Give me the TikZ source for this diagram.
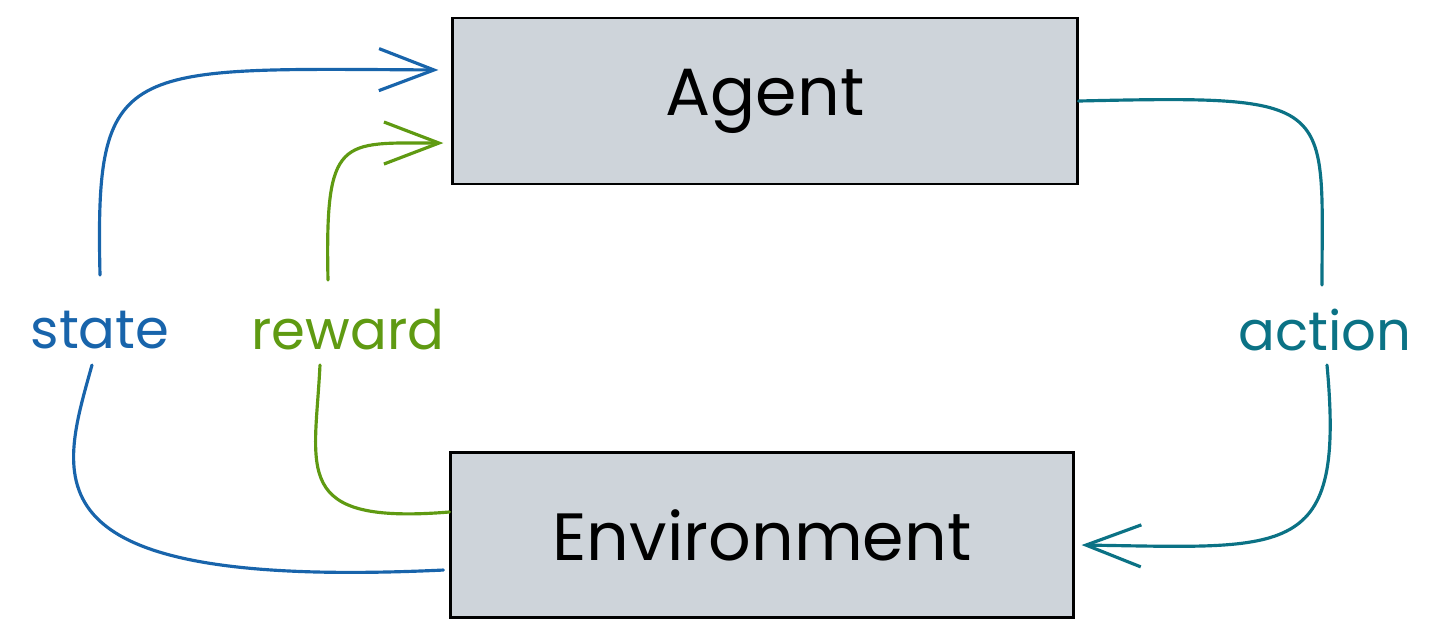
\documentclass[tikz,border=0pt]{standalone}
\usepackage{fontspec}
\setmainfont{Poppins}
\usetikzlibrary{arrows.meta}
\definecolor{boxgray}{HTML}{CED4DA}
\definecolor{stateblue}{HTML}{1864AB}
\definecolor{rewardgreen}{HTML}{5F9A12}
\definecolor{actionteal}{HTML}{0B7285}
\tikzset{
  box/.style={draw=black, line width=0.8pt, fill=boxgray, inner sep=0pt},
  boxtxt/.style={font=\fontsize{19}{23}\selectfont},
  lbl/.style={font=\fontsize{15.5}{19}\selectfont, inner sep=0pt},
  flow/.style={line width=0.9pt, line cap=round},
  tip/.style={-{Straight Barb[length=5.5mm, width=4.2mm]}}
}

\begin{document}
\begin{tikzpicture}[x=0.01cm, y=-0.01cm]
			%%%%% START %%%%%
			\useasboundingbox (0, 0) rectangle (1430, 638);
			
			\node[box, minimum width=6.24cm, minimum height=1.66cm] (agent) at (765, 101) {};
			\node[boxtxt] (agenttxt) at (agent.center) {Agent};
			
			\node[box, minimum width=6.22cm, minimum height=1.65cm] (env) at (762, 535) {};
			\node[boxtxt] (envtxt) at (env.center) {Environment};
			
			\node[lbl, text=stateblue] (state) at (100, 330) {state};
			\node[lbl, text=rewardgreen] (reward) at (348, 330) {reward};
			\node[lbl, text=actionteal] (action) at (1325, 330) {action};
			
			\coordinate (stateout) at ([yshift=-0.35cm, xshift=-0.06cm]env.west);
			\coordinate (rewardout) at ([yshift=0.23cm]env.west);
			\coordinate (statein) at ([yshift=0.31cm, xshift=-0.13cm]agent.west);
			\coordinate (rewardin) at ([yshift=-0.42cm, xshift=-0.08cm]agent.west);
			\coordinate (actionin) at ([yshift=-0.1cm, xshift=0.07cm]env.east);
			
			% state
			\draw[flow, stateblue] (stateout) .. controls (20, 590) and (60, 480) .. ([yshift=-0.35cm, xshift=-0.08cm]state.center);
			\draw[flow, stateblue, tip] ([yshift=0.55cm]state.center) .. controls (95, 60) and (120, 68) .. (statein);
			
			% reward
			\draw[flow, rewardgreen] (rewardout) .. controls (290, 525) and (315, 470) .. ([yshift=-0.35cm, xshift=-0.28cm]reward.center);
			\draw[flow, rewardgreen, tip] ([yshift=0.5cm, xshift=-0.2cm]reward.center) .. controls (325, 135) and (340, 143) .. (rewardin);
			
			% action
			\draw[flow, actionteal] (agent.east) .. controls (1340, 95) and (1322, 100) .. ([yshift=0.45cm, xshift=-0.03cm]action.center);
			\draw[flow, actionteal, tip] ([yshift=-0.35cm, xshift=0.02cm]action.center) .. controls (1345, 560) and (1290, 548) .. (actionin);
			%%%%% END %%%%%
\end{tikzpicture}
\end{document}
